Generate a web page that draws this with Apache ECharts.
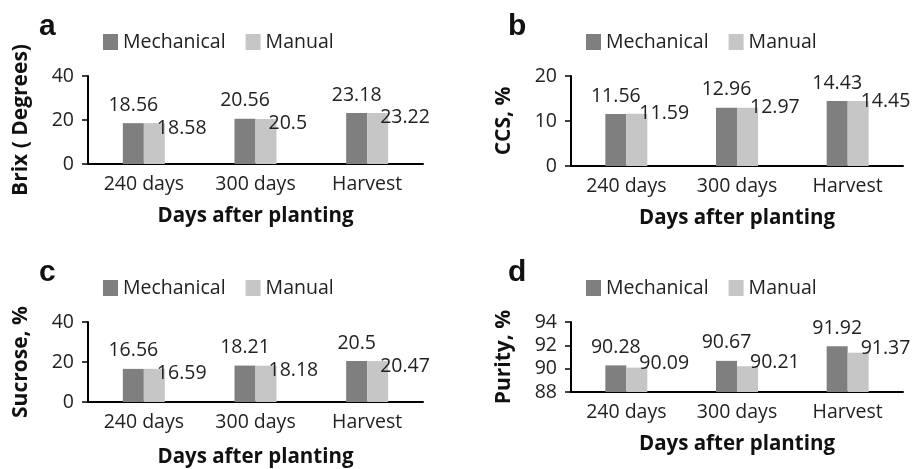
<!DOCTYPE html>
<html>
<head>
    <meta charset="UTF-8">
    <title>Mechanical vs Manual</title>
    <script src="https://cdn.jsdelivr.net/npm/echarts@6/dist/echarts.min.js"></script>
    <style>
        html, body { margin: 0; padding: 0; background: #fff; }
        #chart { width: 915px; height: 469px; }
    </style>
</head>
<body>
<div id="chart"></div>
<script>
    var categories = ['240 days', '300 days', 'Harvest'];
    var seriesNames = ['Mechanical', 'Manual'];

    var brixMech = [18.56, 20.56, 23.18];
    var brixManual = [18.58, 20.5, 23.22];
    var ccsMech = [11.56, 12.96, 14.43];
    var ccsManual = [11.59, 12.97, 14.45];
    var sucroseMech = [16.56, 18.21, 20.5];
    var sucroseManual = [16.59, 18.18, 20.47];
    var purityMech = [90.28, 90.67, 91.92];
    var purityManual = [90.09, 90.21, 91.37];

    var FONT = '"Open Sans", sans-serif';
    var DARK = '#7f7f7f', LIGHT = '#c6c6c6';
    var FS = 19.5;

    // one entry per panel: layout + axis range
    var panels = [
        {letter: 'a', yName: 'Brix ( Degrees)', mech: brixMech, manual: brixManual,
            min: 0, max: 40, interval: 20, left: 88, top: 76, width: 335, height: 88, manualDy: -5, xGap: 42},
        {letter: 'b', yName: 'CCS, %', mech: ccsMech, manual: ccsManual,
            min: 0, max: 20, interval: 10, left: 571, top: 76, width: 332, height: 90, manualDy: -10, xGap: 42},
        {letter: 'c', yName: 'Sucrose, %', mech: sucroseMech, manual: sucroseManual,
            min: 0, max: 40, interval: 20, left: 88, top: 322, width: 335, height: 85, manualDy: -5, xGap: 45},
        {letter: 'd', yName: 'Purity, %', mech: purityMech, manual: purityManual,
            min: 88, max: 94, interval: 2, left: 571, top: 322, width: 332, height: 70, manualDy: -14, xGap: 42}
    ];

    var option = {
        animation: false,
        backgroundColor: '#fff',
        textStyle: {fontFamily: FONT},
        title: [], legend: [], grid: [], xAxis: [], yAxis: [], series: []
    };

    panels.forEach(function (p, i) {
        option.title.push({
            text: p.letter,
            left: p.left - (i % 2 ? 68 : 54),
            top: p.top - 69,
            textStyle: {fontFamily: '"Liberation Sans", Arial, sans-serif', fontSize: 30, fontWeight: 'bold', color: '#111'}
        });
        option.legend.push({
            data: seriesNames,
            left: p.left + 15,
            top: p.top - 44,
            padding: 0,
            icon: 'rect',
            itemWidth: 15,
            itemHeight: 16,
            itemGap: 20,
            selectedMode: false,
            textStyle: {fontFamily: FONT, fontSize: FS, color: '#222'}
        });
        option.grid.push({left: p.left, top: p.top, width: p.width, height: p.height});
        option.xAxis.push({
            type: 'category',
            gridIndex: i,
            data: categories,
            name: 'Days after planting',
            nameLocation: 'middle',
            nameGap: p.xGap,
            nameTextStyle: {fontFamily: FONT, fontSize: 20.5, fontWeight: 'bold', color: '#111'},
            axisLine: {lineStyle: {color: '#000', width: 2}},
            axisTick: {show: false},
            axisLabel: {fontFamily: FONT, fontSize: FS, color: '#222', margin: 10},
            splitLine: {show: false}
        });
        option.yAxis.push({
            type: 'value',
            gridIndex: i,
            min: p.min,
            max: p.max,
            interval: p.interval,
            name: p.yName,
            nameLocation: 'middle',
            nameGap: 56,
            nameTextStyle: {fontFamily: FONT, fontSize: 21, fontWeight: 'bold', color: '#111'},
            axisLine: {show: true, lineStyle: {color: '#000', width: 2}},
            axisTick: {show: true, length: 6, lineStyle: {color: '#000', width: 1.5}},
            axisLabel: {fontFamily: FONT, fontSize: FS, color: '#222', margin: 14},
            splitLine: {show: false}
        });
        option.series.push({
            name: 'Mechanical',
            type: 'bar',
            xAxisIndex: i,
            yAxisIndex: i,
            data: p.mech,
            barWidth: 21,
            barGap: '0%',
            itemStyle: {color: DARK},
            label: {show: true, position: 'top', distance: 8, fontFamily: FONT, fontSize: FS, color: '#222'}
        });
        option.series.push({
            name: 'Manual',
            type: 'bar',
            xAxisIndex: i,
            yAxisIndex: i,
            data: p.manual,
            barWidth: 21,
            barGap: '0%',
            itemStyle: {color: LIGHT},
            label: {show: true, position: [13, p.manualDy], fontFamily: FONT, fontSize: FS, color: '#222'}
        });
    });

    var chart = echarts.init(document.getElementById('chart'));
    chart.setOption(option);
</script>
</body>
</html>
